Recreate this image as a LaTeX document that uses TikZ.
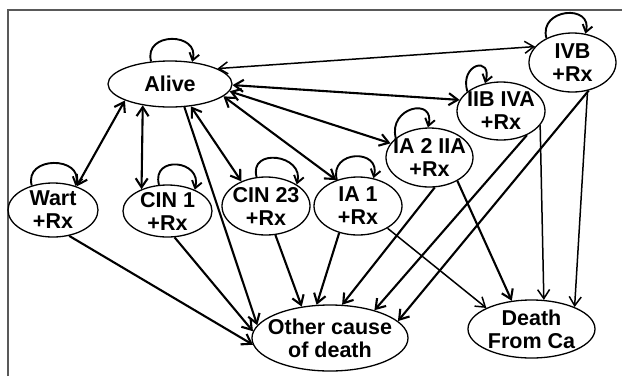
\documentclass[tikz,border=0pt]{standalone}
\usepackage{fontspec}
\setmainfont{Liberation Sans}
\usetikzlibrary{shapes.geometric,arrows.meta}
\begin{document}
\begin{tikzpicture}[x=1pt,y=-1pt,
  st/.style={draw,ellipse,line width=1.3pt,inner xsep=-40pt,inner ysep=-25pt,
     align=center,font=\fontsize{21.5}{23}\selectfont\bfseries},
  bi/.style={thk,{Straight Barb[length=9pt,width=12pt]}-{Straight Barb[length=9pt,width=12pt]}},
  bithin/.style={thn,{Straight Barb[length=9pt,width=12pt]}-{Straight Barb[length=9pt,width=12pt]}},
  thk/.style={line width=2.1pt},
  thn/.style={line width=1.5pt},
  one/.style={thk,-{Straight Barb[length=9pt,width=12pt]}},
  onethin/.style={thn,-{Straight Barb[length=9pt,width=12pt]}},
  selfloop/.style={line width=1.9pt,-{Straight Barb[length=7pt,width=10pt]}},
  frame/.style={draw=black!65,line width=1.4pt}
]
\useasboundingbox (0,0) rectangle (622,376);
\coordinate (fa) at (8,376);
\coordinate (fb) at (8,10);
\coordinate (fc) at (622,10);
\draw[frame] (fa) -- (fb) -- (fc);

\node[st,minimum width=124pt,minimum height=46pt] (alive) at (170,84) {Alive};
\node[st,minimum width=90pt,minimum height=54pt] (wart) at (53,210) {Wart\\+Rx};
\node[st,minimum width=89pt,minimum height=52pt] (cin1) at (167.5,211) {CIN 1\\+Rx};
\node[st,minimum width=88pt,minimum height=58pt] (cin23) at (266,206) {CIN 23\\+Rx};
\node[st,minimum width=88pt,minimum height=58pt] (ia1) at (358,206) {IA 1\\+Rx};
\node[st,minimum width=87pt,minimum height=59pt] (ia2) at (429.5,157.5) {IA 2 IIA\\+Rx};
\node[st,minimum width=88pt,minimum height=58pt] (iib) at (501,111) {IIB IVA\\+Rx};
\node[st,minimum width=87pt,minimum height=59pt] (ivb) at (572.5,62.5) {IVB\\+Rx};
\node[st,minimum width=156pt,minimum height=66pt] (other) at (330,338) {Other cause\\of death};
\node[st,minimum width=127pt,minimum height=58pt] (death) at (531.5,329) {Death\\From Ca};

% self loops
\draw[selfloop] (alive.130) .. controls +(-8,-30) and +(8,-30) .. (alive.45);
\draw[selfloop] (wart.131) .. controls +(-8,-30) and +(8,-30) .. (wart.47);
\draw[selfloop] (cin1.108) .. controls +(-8,-30) and +(8,-30) .. (cin1.38);
\draw[selfloop] (cin23.108) .. controls +(-8,-30) and +(8,-30) .. (cin23.35);
\draw[selfloop] (ia1.129) .. controls +(-8,-30) and +(8,-30) .. (ia1.61);
\draw[selfloop] (ia2.150) .. controls +(-8,-31) and +(8,-31) .. (ia2.93);
\draw[selfloop] (iib.150) .. controls +(-8,-28) and +(8,-28) .. (iib.120);
\draw[selfloop] (ivb.137) .. controls +(-8,-30) and +(8,-30) .. (ivb.66);

% Alive links
\draw[bithin] (alive.18) -- (ivb.157);
\draw[bi] (alive.-1) -- (iib.165);
\draw[bi] (alive.-7) -- (ia2.160);
\draw[bi] (alive.-13) -- (ia1.130);
\draw[bi] (alive.-47) -- (cin23.135);
\draw[bi] (alive.-142) -- (cin1.140);
\draw[bi] (alive.-160) -- (wart.45);
\draw[one] (alive.-58) -- (other.170);

% to Other cause of death
\draw[one] (wart.-58) -- (other.-175);
\draw[one] (cin1.-75) -- (other.175);
\draw[one] (cin23.-72) -- (other.132);
\draw[one] (ia1.-125) -- (other.112);
\draw[one] (ia2.-80) -- (other.70);
\draw[one] (iib.-43) -- (other.32);
\draw[one] (ivb.-60) -- (other.14);

% to Death from Ca
\draw[onethin] (ia1.-37) -- (death.155);
\draw[one] (ia2.-40) -- (death.125);
\draw[onethin] (iib.-20) -- (death.67);
\draw[onethin] (ivb.-62) -- (death.27);
\end{tikzpicture}
\end{document}
